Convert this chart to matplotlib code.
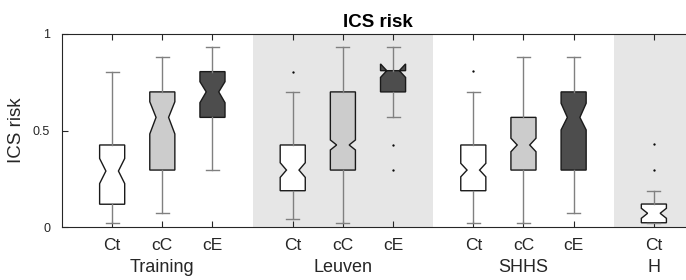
import matplotlib
matplotlib.use("Agg")
import matplotlib.pyplot as plt
import matplotlib.transforms as mtransforms

plt.rcParams['font.family'] = ['Liberation Sans', 'DejaVu Sans']

# ---- data ----
groups = ['Training', 'Leuven', 'SHHS', 'H']
group_sizes = [3, 3, 3, 1]
sub_labels = ['Ct', 'cC', 'cE', 'Ct', 'cC', 'cE', 'Ct', 'cC', 'cE', 'Ct']
whislo = [0.022, 0.071, 0.295, 0.041, 0.022, 0.568, 0.022, 0.022, 0.071, 0.022]
q1     = [0.118, 0.295, 0.568, 0.188, 0.295, 0.700, 0.188, 0.295, 0.295, 0.022]
cilo   = [0.225, 0.482, 0.644, 0.257, 0.399, 0.775, 0.260, 0.390, 0.503, 0.045]
med    = [0.290, 0.568, 0.700, 0.295, 0.425, 0.810, 0.295, 0.425, 0.568, 0.071]
cihi   = [0.355, 0.649, 0.753, 0.333, 0.451, 0.845, 0.330, 0.460, 0.641, 0.097]
q3     = [0.425, 0.700, 0.805, 0.425, 0.700, 0.810, 0.425, 0.568, 0.700, 0.119]
whishi = [0.805, 0.882, 0.931, 0.700, 0.931, 0.931, 0.700, 0.882, 0.882, 0.188]
fliers = [[], [], [], [0.805], [], [0.425, 0.295], [0.810], [], [], [0.428, 0.295]]
box_colors = {'Ct': '#ffffff', 'cC': '#cccccc', 'cE': '#4d4d4d'}

# ---- layout ----
positions = []
group_centers = []
spans = []
p = 1.0
for gi, n in enumerate(group_sizes):
    start = p
    for k in range(n):
        positions.append(p)
        p += 1.0
    end = p - 1.0
    group_centers.append((start + end) / 2)
    spans.append((start - 0.8, end + 0.8))
    p += 0.6

fig = plt.figure(figsize=(6.86, 2.8), dpi=100)
ax = fig.add_axes([62 / 686, (280 - 227) / 280, 632 / 686, 193 / 280])

for gi, (a, b) in enumerate(spans):
    if gi % 2 == 1:
        ax.axvspan(a, b, color='#e6e6e6', zorder=0, lw=0)

stats = []
for i in range(len(positions)):
    stats.append(dict(whislo=whislo[i], q1=q1[i], cilo=cilo[i], med=med[i],
                      cihi=cihi[i], q3=q3[i], whishi=whishi[i], fliers=fliers[i]))

bp = ax.bxp(stats, positions=positions, widths=0.5, capwidths=0.26,
            shownotches=True, patch_artist=True,
            boxprops=dict(edgecolor='#1a1a1a', linewidth=1.0),
            whiskerprops=dict(color='#808080', linewidth=1.0),
            capprops=dict(color='#808080', linewidth=1.0),
            medianprops=dict(linewidth=0),
            flierprops=dict(marker='.', markersize=1.3, markerfacecolor='black',
                            markeredgecolor='black', linestyle='none'),
            manage_ticks=False, zorder=2)
for patch, lab in zip(bp['boxes'], sub_labels):
    patch.set_facecolor(box_colors[lab])

ax.set_xlim(0, 12.6)
ax.set_ylim(0, 1)
ax.set_xticks(positions)
ax.set_xticklabels(sub_labels, fontsize=12.5)
ax.set_yticks([0, 0.5, 1])
ax.set_yticklabels(['0', '0.5', '1'], fontsize=9)

ax.tick_params(axis='x', direction='in', top=True, length=4.3, width=0.8,
               color='#262626', pad=8, labelcolor='#262626')
ax.tick_params(axis='y', direction='in', right=False, length=4.3, width=0.8,
               color='#262626', pad=8.5, labelcolor='#262626')
for s in ax.spines.values():
    s.set_color('#262626')
    s.set_linewidth(0.8)

trans = mtransforms.blended_transform_factory(ax.transData, ax.transAxes)
for name, c in zip(groups, group_centers):
    ax.text(c, -0.232, name, transform=trans, ha='center', va='baseline',
            fontsize=13, color='#262626')

ax.set_ylabel('ICS risk', fontsize=13.5, color='#262626')
ax.yaxis.set_label_coords(-0.072, 0.5)
ax.yaxis.label.set_va('center')
ax.set_title('ICS risk', fontsize=13.5, fontweight='bold', pad=5.3)

fig.savefig('out.png', dpi=100)
